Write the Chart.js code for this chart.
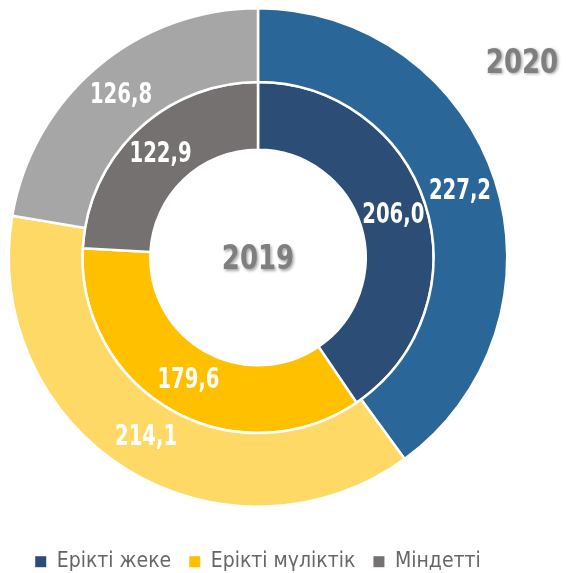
<!DOCTYPE html>
<html>
<head>
<meta charset="utf-8">
<script src="https://cdn.jsdelivr.net/npm/chart.js@4/dist/chart.umd.min.js"></script>
<style>
  html, body { margin: 0; padding: 0; background: #fff; }
  #wrap { width: 566px; height: 573px; position: relative; }
</style>
</head>
<body>
<div id="wrap"><canvas id="chart"></canvas></div>
<script>
// Категории и значения
const categories = ['Ерікті жеке', 'Ерікті мүліктік', 'Міндетті']
const values2020 = [227.2, 214.1, 126.8]
const values2019 = [206.0, 179.6, 122.9]
const yearOuter = '2020'
const yearInner = '2019'

const colorsOuter = ['#2B6699', '#FFD966', '#A6A6A6']
const colorsInner = ['#2C4D75', '#FFC000', '#767171']

const FONT = '"DejaVu Sans Condensed", "DejaVu Sans", sans-serif'

function fmt(v) {
  return v.toFixed(1).replace('.', ',')
}

// Текст, сжатый по горизонтали (имитация узкого шрифта)
function narrowText(ctx, text, x, y, k) {
  ctx.save()
  ctx.translate(x, y)
  ctx.scale(k, 1)
  ctx.fillText(text, 0, 0)
  ctx.restore()
}

// Подписи значений в центре сегментов и подписи годов
const arcLabels = {
  id: 'arcLabels',
  afterDatasetsDraw(chart) {
    const ctx = chart.ctx
    ctx.save()
    ctx.textAlign = 'center'
    ctx.textBaseline = 'middle'
    ctx.font = 'bold 28px ' + FONT
    ctx.fillStyle = '#fff'
    chart.data.datasets.forEach((ds, di) => {
      const meta = chart.getDatasetMeta(di)
      meta.data.forEach((arc, i) => {
        const p = arc.tooltipPosition()
        narrowText(ctx, fmt(ds.data[i]), p.x, p.y, 0.78)
      })
    })

    const arc0 = chart.getDatasetMeta(0).data[0]
    ctx.shadowColor = 'rgba(0,0,0,0.35)'
    ctx.shadowBlur = 3
    ctx.shadowOffsetX = 1.5
    ctx.shadowOffsetY = 1.5
    ctx.fillStyle = '#7F7F7F'
    ctx.font = 'bold 34px ' + FONT
    narrowText(ctx, yearInner, arc0.x, arc0.y + 3, 0.85)
    narrowText(ctx, yearOuter, 522, 64, 0.85)
    ctx.restore()
  },
}

// Фиксированная высота легенды
const legendHeight = {
  id: 'legendHeight',
  beforeUpdate(chart) {
    const legend = chart.legend
    if (legend && !legend._fixed) {
      const fit = legend.fit
      legend.fit = function () {
        fit.call(this)
        this.height = 65
      }
      legend._fixed = true
    }
  },
}

new Chart(document.getElementById('chart'), {
  type: 'doughnut',
  data: {
    labels: categories,
    datasets: [
      {
        label: yearOuter,
        data: values2020,
        backgroundColor: colorsOuter,
        borderColor: '#fff',
        borderWidth: 2.5,
        weight: 74,
      },
      {
        label: yearInner,
        data: values2019,
        backgroundColor: colorsInner,
        borderColor: '#fff',
        borderWidth: 2.5,
        weight: 68,
      },
    ],
  },
  options: {
    responsive: true,
    maintainAspectRatio: false,
    animation: false,
    cutout: '43.2%',
    layout: {
      padding: { left: 7, right: 57, top: 7, bottom: 0 },
    },
    plugins: {
      tooltip: { enabled: false },
      legend: {
        position: 'bottom',
        title: {
          display: true,
          text: ' ',
          font: { size: 1 },
          padding: { top: 0, bottom: 24 },
        },
        labels: {
          font: { family: FONT, size: 21 },
          color: '#595959',
          boxWidth: 11,
          boxHeight: 11,
          padding: 18,
          generateLabels(chart) {
            return chart.data.labels.map((label, i) => ({
              text: label,
              fillStyle: colorsInner[i],
              strokeStyle: colorsInner[i],
              lineWidth: 0,
              hidden: false,
              index: i,
            }))
          },
        },
      },
    },
  },
  plugins: [arcLabels, legendHeight],
})
</script>
</body>
</html>
